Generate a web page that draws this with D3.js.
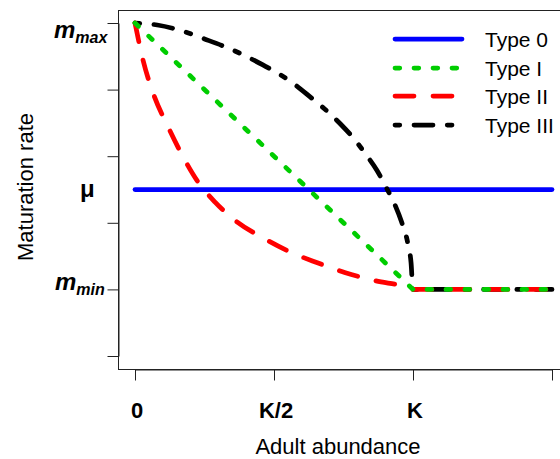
<!DOCTYPE html>
<html>
<head>
<meta charset="utf-8">
<script src="https://cdn.jsdelivr.net/npm/d3@7"></script>
<style>
  body { margin: 0; background: #fff; }
  text { font-family: "Liberation Sans", Arial, sans-serif; fill: #000; }
</style>
</head>
<body>
<div id="chart"></div>
<script>
let svgWidth = 560;
let svgHeight = 459;

// Data ===========================
let xTicks = [0, 0.5, 1, 1.5];
let xTickLabels = ["0", "K/2", "K", ""];
let yTicks = [0, 0.1, 0.2, 0.3, 0.4, 0.5];
let mMin = 0.1, mMax = 0.5, mu = 0.25;

let seriesNames = ["Type 0", "Type I", "Type II", "Type III"];
let type0 = [[0, 0.25], [1.5, 0.25]];
let type1 = [[0, 0.5], [1, 0.1], [1.5, 0.1]];
let type2 = [[0, 0.5], [0.029, 0.444], [0.065, 0.395], [0.119, 0.344], [0.173, 0.299],
  [0.224, 0.263], [0.288, 0.231], [0.368, 0.201], [0.462, 0.177], [0.559, 0.156],
  [0.656, 0.140], [0.757, 0.125], [0.865, 0.113], [0.981, 0.103], [1, 0.1], [1.5, 0.1]];
let type3 = [[0, 0.5], [0.08, 0.497], [0.17, 0.488], [0.25, 0.476], [0.32, 0.465],
  [0.39, 0.452], [0.46, 0.437], [0.52, 0.423], [0.58, 0.406], [0.63, 0.389],
  [0.69, 0.368], [0.74, 0.348], [0.78, 0.330], [0.83, 0.303], [0.87, 0.279],
  [0.90, 0.256], [0.935, 0.227], [0.96, 0.200], [0.98, 0.172], [0.993, 0.140],
  [1, 0.1], [1.5, 0.1]];

let lw = 4.75;
let series = [
  { name: seriesNames[0], data: type0, color: "#0000FF", dash: null, smooth: false },
  { name: seriesNames[1], data: type1, color: "#00CD00", dash: [lw, 3 * lw], smooth: false },
  { name: seriesNames[2], data: type2, color: "#FF0000", dash: [4 * lw, 4 * lw], smooth: true },
  { name: seriesNames[3], data: type3, color: "#000000", dash: [lw, 3 * lw, 4 * lw, 3 * lw], smooth: true }
];

// Scales ==========================
let x = d3.scaleLinear().domain([0, 1.5]).range([135, 552]);
let y = d3.scaleLinear().domain([0, 0.5]).range([356, 23]);

let svg = d3.select("#chart").append("svg").attr("width", svgWidth).attr("height", svgHeight);

// Box
let boxL = Math.round(x(-0.06)) + 0.5;
let boxT = Math.round(y(0.52)) + 0.5;
let boxB = Math.round(y(-0.02)) + 0.5;
svg.append("rect")
  .attr("x", boxL).attr("y", boxT)
  .attr("width", 700).attr("height", boxB - boxT)
  .attr("fill", "none").attr("stroke", "#222").attr("stroke-width", 1);

// Axes
let yAxis = svg.append("g")
  .attr("transform", `translate(${boxL}, 0)`)
  .call(d3.axisLeft(y).tickValues(yTicks).tickSize(11).tickSizeOuter(0).tickFormat(""));
let xAxis = svg.append("g")
  .attr("transform", `translate(0, ${boxB})`)
  .call(d3.axisBottom(x).tickValues(xTicks).tickSize(11).tickSizeOuter(0).tickFormat(""));
[yAxis, xAxis].forEach(a => {
  a.selectAll("line").attr("stroke", "#222");
  a.select(".domain").attr("stroke", "#222");
});

// X tick labels
svg.selectAll(".xlab")
  .data(xTicks)
  .enter()
  .append("text")
  .attr("x", d => x(d) + 2)
  .attr("y", 418)
  .attr("text-anchor", "middle")
  .attr("font-size", 22)
  .attr("font-weight", "bold")
  .text((d, i) => xTickLabels[i]);

// Y tick labels (m_max, mu, m_min)
let mLabel = (xpos, ybase, sub) => {
  let t = svg.append("text")
    .attr("x", xpos).attr("y", ybase)
    .attr("font-weight", "bold").attr("font-style", "italic");
  t.append("tspan").attr("font-size", 24).text("m");
  t.append("tspan").attr("font-size", 16).attr("dy", 5).text(sub);
};
mLabel(54, y(mMax) + 15, "max");
mLabel(55, y(mMin) + 1, "min");
svg.append("text")
  .attr("x", 80).attr("y", y(mu) + 7)
  .attr("font-size", 24).attr("font-weight", "bold")
  .text("μ");

// Axis titles
svg.append("text")
  .attr("x", 338).attr("y", 454)
  .attr("text-anchor", "middle")
  .attr("font-size", 22)
  .text("Adult abundance");
svg.append("text")
  .attr("transform", "translate(33, 187) rotate(-90)")
  .attr("text-anchor", "middle")
  .attr("font-size", 22)
  .text("Maturation rate");

// Lines ============================
let lineSmooth = d3.line().x(d => x(d[0])).y(d => y(d[1])).curve(d3.curveMonotoneX);
let lineStraight = d3.line().x(d => x(d[0])).y(d => y(d[1]));

let drawOrder = [0, 3, 2, 1];
drawOrder.forEach(i => {
  let s = series[i];
  svg.append("path")
    .datum(s.data)
    .attr("d", s.smooth ? lineSmooth : lineStraight)
    .attr("fill", "none")
    .attr("stroke", s.color)
    .attr("stroke-width", lw)
    .attr("stroke-linecap", "round")
    .attr("stroke-linejoin", "round")
    .attr("stroke-dasharray", s.dash ? s.dash.join(",") : null);
});

// Legend ===========================
let legendRows = [39, 68, 96, 125];
let legend = svg.append("g");
series.forEach((s, i) => {
  legend.append("line")
    .attr("x1", 395).attr("x2", 462)
    .attr("y1", legendRows[i]).attr("y2", legendRows[i])
    .attr("stroke", s.color)
    .attr("stroke-width", lw)
    .attr("stroke-linecap", "round")
    .attr("stroke-dasharray", s.dash ? s.dash.join(",") : null);
  legend.append("text")
    .attr("x", 485).attr("y", legendRows[i] + 7.5)
    .attr("font-size", 21)
    .text(s.name);
});
</script>
</body>
</html>
